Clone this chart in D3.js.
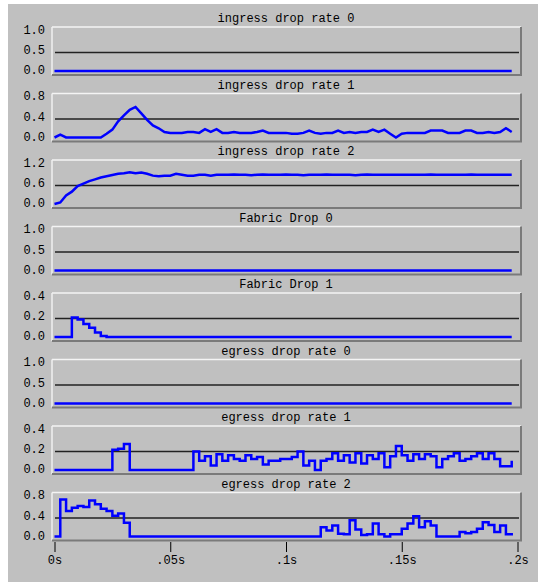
<!DOCTYPE html>
<html>
<head>
<meta charset="utf-8">
<script src="https://cdn.jsdelivr.net/npm/d3@7"></script>
<style>
  body { margin: 0; background: #fff; }
  text { font-family: "Liberation Mono", "DejaVu Sans Mono", monospace; fill: #000; }
</style>
</head>
<body>
<div data-output></div>
<script>
// sample times in ms
const timesMs = [0,2.5,5,7.5,10,12.5,15,17.5,20,22.5,25,27.5,30,32.5,35,37.5,40,42.5,45,47.5,
  50,52.5,55,57.5,60,62.5,65,67.5,70,72.5,75,77.5,80,82.5,85,87.5,90,92.5,95,97.5,
  100,102.5,105,107.5,110,112.5,115,117.5,120,122.5,125,127.5,130,132.5,135,137.5,140,142.5,145,147.5,
  150,152.5,155,157.5,160,162.5,165,167.5,170,172.5,175,177.5,180,182.5,185,187.5,190,192.5,195,197.5];

const ingress0 = [0,0,0,0,0,0,0,0,0,0, 0,0,0,0,0,0,0,0,0,0, 0,0,0,0,0,0,0,0,0,0, 0,0,0,0,0,0,0,0,0,0,
  0,0,0,0,0,0,0,0,0,0, 0,0,0,0,0,0,0,0,0,0, 0,0,0,0,0,0,0,0,0,0, 0,0,0,0,0,0,0,0,0,0];
const ingress1 = [0,0.06,0,0,0,0,0,0,0,0.08,
  0.17,0.35,0.48,0.6,0.66,0.52,0.38,0.26,0.2,0.12,
  0.1,0.1,0.1,0.12,0.12,0.1,0.18,0.12,0.18,0.1,
  0.1,0.12,0.1,0.1,0.1,0.12,0.15,0.1,0.1,0.1,
  0.1,0.08,0.08,0.1,0.15,0.1,0.08,0.1,0.1,0.15,
  0.1,0.12,0.1,0.12,0.12,0.17,0.12,0.17,0.08,0,
  0.08,0.1,0.1,0.1,0.1,0.15,0.15,0.15,0.1,0.1,
  0.1,0.15,0.15,0.1,0.1,0.12,0.1,0.12,0.2,0.12];
const ingress2 = [0,0.05,0.28,0.4,0.58,0.66,0.74,0.8,0.86,0.9,
  0.94,0.98,1.0,1.03,1.0,1.02,0.98,0.92,0.9,0.92,
  0.92,0.98,0.95,0.92,0.92,0.95,0.95,0.92,0.95,0.95,
  0.95,0.96,0.95,0.95,0.93,0.95,0.96,0.95,0.95,0.95,
  0.96,0.95,0.95,0.93,0.95,0.95,0.95,0.96,0.95,0.95,
  0.95,0.95,0.93,0.95,0.96,0.95,0.95,0.95,0.95,0.95,
  0.95,0.95,0.95,0.95,0.95,0.96,0.95,0.95,0.95,0.95,
  0.95,0.95,0.96,0.95,0.95,0.95,0.95,0.95,0.95,0.95];
const fabric0 = [0,0,0,0,0,0,0,0,0,0, 0,0,0,0,0,0,0,0,0,0, 0,0,0,0,0,0,0,0,0,0, 0,0,0,0,0,0,0,0,0,0,
  0,0,0,0,0,0,0,0,0,0, 0,0,0,0,0,0,0,0,0,0, 0,0,0,0,0,0,0,0,0,0, 0,0,0,0,0,0,0,0,0,0];
const fabric1 = [0,0,0,0.21,0.19,0.14,0.1,0.05,0.01,0, 0,0,0,0,0,0,0,0,0,0, 0,0,0,0,0,0,0,0,0,0, 0,0,0,0,0,0,0,0,0,0,
  0,0,0,0,0,0,0,0,0,0, 0,0,0,0,0,0,0,0,0,0, 0,0,0,0,0,0,0,0,0,0, 0,0,0,0,0,0,0,0,0,0];
const egress0 = [0,0,0,0,0,0,0,0,0,0, 0,0,0,0,0,0,0,0,0,0, 0,0,0,0,0,0,0,0,0,0, 0,0,0,0,0,0,0,0,0,0,
  0,0,0,0,0,0,0,0,0,0, 0,0,0,0,0,0,0,0,0,0, 0,0,0,0,0,0,0,0,0,0, 0,0,0,0,0,0,0,0,0,0];
const egress1 = [0,0,0,0,0,0,0,0,0,0,
  0.22,0.23,0.28,0,0,0,0,0,0,0,
  0,0,0,0,0.2,0.1,0.15,0.05,0.17,0.1,
  0.16,0.12,0.1,0.16,0.12,0.14,0.06,0.1,0.1,0.12,
  0.12,0.14,0.2,0.05,0.1,0,0.1,0.12,0.18,0.1,
  0.16,0.08,0.18,0.07,0.16,0.12,0.18,0.03,0.15,0.26,
  0.16,0.1,0.17,0.12,0.17,0.15,0.03,0.12,0.15,0.18,
  0.1,0.12,0.15,0.18,0.12,0.18,0.12,0.04,0.04,0.1];
const egress2 = [0,0.8,0.55,0.62,0.66,0.64,0.78,0.7,0.6,0.55,
  0.45,0.5,0.3,0,0,0,0,0,0,0,
  0,0,0,0,0,0,0,0,0,0,
  0,0,0,0,0,0,0,0,0,0,
  0,0,0,0,0,0,0.2,0.13,0.24,0.06,
  0.05,0.35,0.15,0.03,0.05,0.28,0.05,0,0.05,0.05,
  0.17,0.28,0.44,0.2,0.33,0.24,0,0,0,0,
  0.1,0.07,0.1,0.17,0.31,0.25,0.1,0.24,0.05,0.02];

const panelTitles = ['ingress drop rate 0', 'ingress drop rate 1', 'ingress drop rate 2',
  'Fabric Drop 0', 'Fabric Drop 1', 'egress drop rate 0', 'egress drop rate 1', 'egress drop rate 2'];
const panelSeries = [ingress0, ingress1, ingress2, fabric0, fabric1, egress0, egress1, egress2];
const panelMax = [1.0, 0.8, 1.2, 1.0, 0.4, 1.0, 0.4, 0.8];
const yTickLabels = [['0.0','0.5','1.0'], ['0.0','0.4','0.8'], ['0.0','0.6','1.2'], ['0.0','0.5','1.0'],
  ['0.0','0.2','0.4'], ['0.0','0.5','1.0'], ['0.0','0.2','0.4'], ['0.0','0.4','0.8']];
const xTicks = [0, 50, 100, 150, 200];
const xTickLabels = ['0s', '.05s', '.1s', '.15s', '.2s'];

const SIZE = { WIDTH: 538, HEIGHT: 582 };
const PLOT = { left: 52, right: 521, top: 27, pitch: 66.5, height: 48 };

const svg = d3.select('[data-output]').append('svg')
  .attr('width', SIZE.WIDTH)
  .attr('height', SIZE.HEIGHT);

// grey window background
svg.append('rect')
  .attr('x', 8).attr('y', 4)
  .attr('width', SIZE.WIDTH - 8).attr('height', SIZE.HEIGHT - 4)
  .attr('fill', '#c0c0c0');

const x = d3.scaleLinear().domain([0, 200]).range([54.5, 517.5]);

panelSeries.forEach((values, k) => {
  const top = PLOT.top + k * PLOT.pitch;
  const bottom = top + PLOT.height;
  const max = panelMax[k];
  const y = d3.scaleLinear().domain([0, max]).range([bottom - 4, top + 7]);
  const yLab = d3.scaleLinear().domain([0, max]).range([bottom - 5, top + 2.5]);
  const g = svg.append('g');

  g.append('text')
    .attr('x', 286).attr('y', top - 5)
    .attr('text-anchor', 'middle')
    .attr('font-size', 12)
    .text(panelTitles[k]);

  // bevelled frame
  const edge = (x1, y1, x2, y2, c, w) => g.append('line')
    .attr('x1', x1).attr('y1', y1).attr('x2', x2).attr('y2', y2)
    .attr('stroke', c).attr('stroke-width', w);
  edge(PLOT.left, top, PLOT.right, top, '#f4f4f4', 1.5);
  edge(PLOT.left, top, PLOT.left, bottom, '#f0f0f0', 1.5);
  edge(PLOT.left, bottom, PLOT.right + 1, bottom, '#7a7a7a', 2);
  edge(PLOT.right, top, PLOT.right, bottom, '#7a7a7a', 2);

  // mid reference line
  edge(55, y(max / 2), 519, y(max / 2), '#222', 1.5);

  const ax = g.append('g')
    .attr('transform', `translate(${PLOT.left}, 0)`)
    .call(d3.axisLeft(yLab)
      .tickValues([0, max / 2, max])
      .tickFormat((d, i) => yTickLabels[k][i])
      .tickSize(0)
      .tickPadding(7));
  ax.select('.domain').remove();
  ax.selectAll('text').attr('font-size', 12).attr('font-family', null);

  const valueLine = d3.line()
    .x((d, i) => x(timesMs[i]))
    .y(d => y(d))
    .curve(k < 3 ? d3.curveLinear : d3.curveStepAfter);

  g.append('path')
    .datum(values)
    .attr('d', valueLine)
    .attr('fill', 'none')
    .attr('stroke', '#0000ff')
    .attr('stroke-width', 2.5)
    .attr('stroke-linejoin', 'miter');
});

const xAx = svg.append('g')
  .attr('transform', 'translate(0, 542)')
  .call(d3.axisBottom(x)
    .tickValues(xTicks)
    .tickFormat((d, i) => xTickLabels[i])
    .tickSize(10)
    .tickPadding(3));
xAx.select('.domain').remove();
xAx.selectAll('line').attr('stroke', '#000');
xAx.selectAll('text').attr('font-size', 12).attr('font-family', null);
</script>
</body>
</html>
